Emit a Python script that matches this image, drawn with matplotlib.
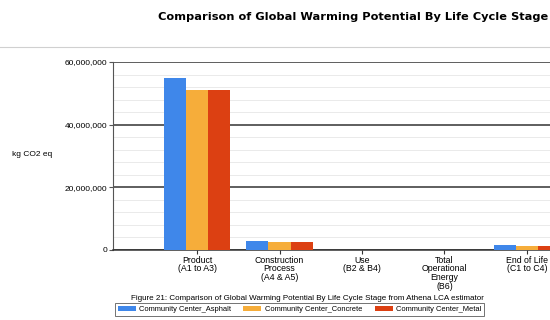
import numpy as np
import matplotlib
matplotlib.use('Agg')
import matplotlib.pyplot as plt
from matplotlib.ticker import FuncFormatter, MultipleLocator
from matplotlib.lines import Line2D

# data
stages = ['Product\n(A1 to A3)', 'Construction\nProcess\n(A4 & A5)', 'Use\n(B2 & B4)',
          'Total\nOperational\nEnergy\n(B6)', 'End of Life\n(C1 to C4)']
asphalt = [55.0e6, 2.8e6, 0, 0, 1.6e6]
concrete = [51.1e6, 2.5e6, 0, 0, 1.3e6]
metal = [51.1e6, 2.5e6, 0, 0, 1.3e6]
series_names = ['Community Center_Asphalt', 'Community Center_Concrete', 'Community Center_Metal']
colors = ['#3f87ea', '#f6ad3a', '#dc4012']

plt.rcParams['font.family'] = ['Liberation Sans', 'DejaVu Sans']

fig = plt.figure(figsize=(5.5, 3.2), dpi=100)
ax = fig.add_axes([113/550., 1-250/320., 1-113/550., (250-62)/320.])

x = np.arange(len(stages))
w = 0.27
for i, vals in enumerate([asphalt, concrete, metal]):
	ax.bar(x + (i-1)*w, vals, width=w, color=colors[i], label=series_names[i], zorder=3)

ax.set_xlim(-1.02, 4.28)
ax.set_ylim(0, 60e6)
ax.yaxis.set_major_locator(MultipleLocator(20e6))
ax.yaxis.set_minor_locator(MultipleLocator(4e6))
ax.yaxis.set_major_formatter(FuncFormatter(lambda v, p: '{:,.0f}'.format(v)))
ax.grid(axis='y', which='major', color='#333333', lw=1.1, zorder=1)
ax.grid(axis='y', which='minor', color='#e6e6e6', lw=0.6, zorder=0)
ax.tick_params(axis='y', which='major', labelsize=6, length=3, width=0.8, color='#555555', pad=1)
ax.tick_params(axis='y', which='minor', length=0)
ax.set_xticks(x)
ax.set_xticklabels(stages, fontsize=6.3, linespacing=0.95)
ax.tick_params(axis='x', length=3, width=0.8, color='#333333', pad=1)
for s in ['top', 'right']:
	ax.spines[s].set_visible(False)
ax.spines['left'].set_color('#555555')
ax.spines['left'].set_linewidth(0.8)
ax.spines['bottom'].set_color('#333333')
ax.spines['bottom'].set_linewidth(1.1)

fig.text(32/550., 1-155/320., 'kg CO2 eq', fontsize=6, ha='center', va='center')
fig.text(548/550., 1-17/320., 'Comparison of Global Warming Potential By Life Cycle Stage',
	family='DejaVu Sans', fontweight='bold', fontsize=8.2, ha='right', va='center')
fig.add_artist(Line2D([0, 1], [1-47/320., 1-47/320.], color='#d0d0d0', lw=0.8, transform=fig.transFigure))
fig.text(307/550., 1-298/320., 'Figure 21: Comparison of Global Warming Potential By Life Cycle Stage from Athena LCA estimator',
	fontsize=5.8, ha='center', va='center')

leg = fig.legend(loc='upper left', bbox_to_anchor=(115/550., 1-303/320.), ncol=3, fontsize=5.4,
	frameon=True, fancybox=False, edgecolor='#333333', handlelength=2.4, handleheight=0.8,
	columnspacing=1.6, handletextpad=0.5, borderpad=0.35, borderaxespad=0)
leg.get_frame().set_linewidth(0.6)

plt.savefig('out.png', dpi=100)
